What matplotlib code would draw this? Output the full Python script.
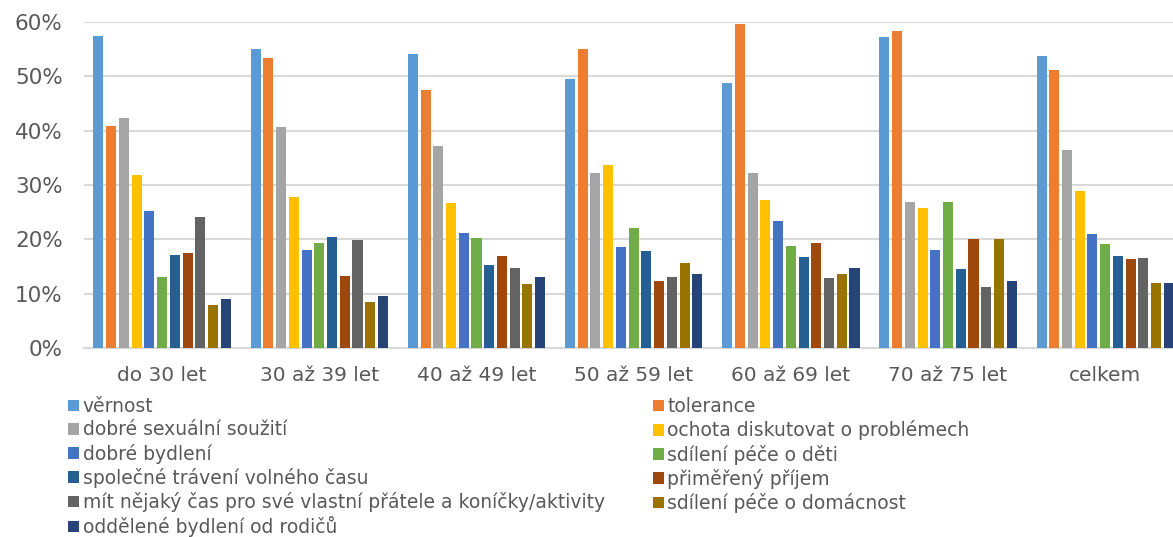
import matplotlib.pyplot as plt
import numpy as np
from matplotlib.ticker import PercentFormatter

groups = ["do 30 let", "30 až 39 let", "40 až 49 let", "50 až 59 let",
          "60 až 69 let", "70 až 75 let", "celkem"]

series = ["věrnost", "tolerance", "dobré sexuální soužití",
          "ochota diskutovat o problémech", "dobré bydlení",
          "sdílení péče o děti", "společné trávení volného času",
          "přiměřený příjem",
          "mít nějaký čas pro své vlastní přátele a koníčky/aktivity",
          "sdílení péče o domácnost", "oddělené bydlení od rodičů"]

vernost = [57.5, 55.1, 54.2, 49.6, 48.7, 57.2, 53.7]
tolerance = [40.8, 53.3, 47.4, 55.1, 59.7, 58.3, 51.1]
sexualni = [42.3, 40.6, 37.2, 32.3, 32.3, 26.9, 36.4]
ochota = [31.8, 27.7, 26.6, 33.7, 27.2, 25.8, 28.9]
bydleni = [25.2, 18.1, 21.1, 18.5, 23.3, 18.0, 21.0]
pece_deti = [13.0, 19.3, 20.2, 22.0, 18.7, 26.9, 19.2]
volny_cas = [17.1, 20.5, 15.2, 17.9, 16.7, 14.5, 17.0]
prijem = [17.5, 13.2, 16.9, 12.3, 19.4, 20.1, 16.4]
pratele = [24.1, 19.9, 14.8, 13.0, 12.9, 11.2, 16.6]
domacnost = [8.0, 8.4, 11.7, 15.7, 13.6, 20.1, 12.0]
oddelene = [9.0, 9.6, 13.0, 13.7, 14.8, 12.3, 11.9]

values = [vernost, tolerance, sexualni, ochota, bydleni, pece_deti,
          volny_cas, prijem, pratele, domacnost, oddelene]

colors = ["#5B9BD5", "#ED7D31", "#A5A5A5", "#FFC000", "#4472C4", "#70AD47",
          "#255E91", "#9E480E", "#636363", "#997300", "#264478"]

fig = plt.figure(figsize=(11.73, 5.37), dpi=100)
ax = fig.add_axes([0.0712, 0.352, 0.938, 0.607])

x = np.arange(len(groups))
step = 0.081
width = 0.064
bars = []
for i, (name, vals) in enumerate(zip(series, values)):
    b = ax.bar(x + (i - 5) * step, vals, width, color=colors[i], label=name,
               linewidth=0, zorder=3)
    bars.append(b)

ax.set_xlim(-0.5, len(groups) - 0.5)
ax.set_ylim(0, 60)
ax.set_yticks(range(0, 61, 10))
ax.yaxis.set_major_formatter(PercentFormatter(decimals=0))
ax.set_xticks(x)
ax.set_xticklabels(groups)
ax.grid(axis="y", color="#D9D9D9", linewidth=1.5, zorder=0)
for s in ["top", "right", "left"]:
    ax.spines[s].set_visible(False)
ax.spines["bottom"].set_color("#D9D9D9")
ax.spines["bottom"].set_linewidth(1.5)
ax.tick_params(axis="both", length=0, labelcolor="#595959")
ax.tick_params(axis="y", pad=15, labelsize=15.5)
ax.tick_params(axis="x", pad=13, labelsize=14.5)

order = [0, 2, 4, 6, 8, 10, 1, 3, 5, 7, 9]
fig.legend([bars[i] for i in order], [series[i] for i in order],
           loc="upper left", bbox_to_anchor=(0.052, 0.274), ncol=2,
           frameon=False, fontsize=13.5, labelcolor="#595959",
           handlelength=0.55, handleheight=0.55, handletextpad=0.2,
           columnspacing=2.6, labelspacing=0.22, borderaxespad=0)

fig.savefig("out.png", dpi=100)
